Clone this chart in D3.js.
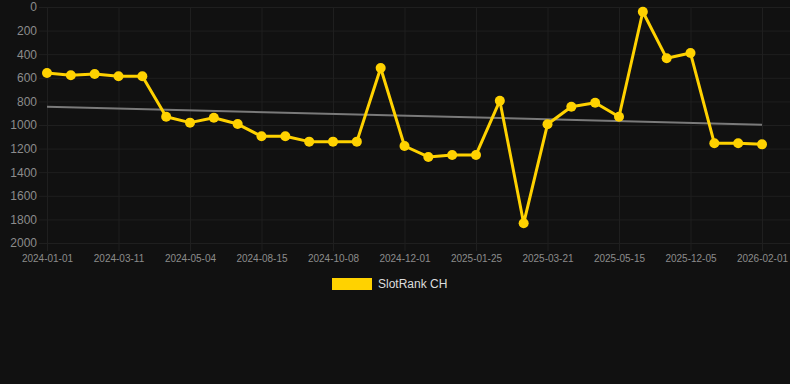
<!DOCTYPE html>
<html><head><meta charset="utf-8">
<script src="https://cdn.jsdelivr.net/npm/d3@7"></script>
<style>html,body{margin:0;padding:0;background:#111111;}svg{display:block;}</style>
</head><body><div id="chart"></div>
<script>
// Data
const tickLabels = ["2024-01-01","2024-03-11","2024-05-04","2024-08-15","2024-10-08","2024-12-01","2025-01-25","2025-03-21","2025-05-15","2025-12-05","2026-02-01"];
const tickEvery = 3;
const rankValues = [560,579,568,587,587,930,980,938,992,1096,1096,1141,1141,1141,517,1178,1271,1254,1254,794,1833,994,845,811,930,40,435,390,1155,1155,1164];
const trendValues = [845,997];
const yTicks = [0,200,400,600,800,1000,1200,1400,1600,1800,2000];
const seriesName = "SlotRank CH";

(function () {
const W = 790, H = 384;
const pLeft = 47, pRight = 762, pTop = 7, pBottom = 243;
const svg = d3.select("#chart").append("svg").attr("width", W).attr("height", H);
svg.append("rect").attr("width", W).attr("height", H).attr("fill", "#111111");

const idx = d3.range(rankValues.length);
const x = d3.scalePoint().domain(idx).range([pLeft, pRight]);
const y = d3.scaleLinear().domain([0, 2000]).range([pTop, pBottom]);

const grid = "#1f1f1f";
svg.append("g").selectAll("line").data(yTicks).join("line")
  .attr("x1", pLeft - 8).attr("x2", W).attr("y1", d => y(d) + 0.5).attr("y2", d => y(d) + 0.5)
  .attr("stroke", grid).attr("stroke-width", 1);
const xTickIdx = idx.filter(i => i % tickEvery === 0);
svg.append("g").selectAll("line").data(xTickIdx).join("line")
  .attr("x1", d => x(d) + 0.5).attr("x2", d => x(d) + 0.5).attr("y1", pTop).attr("y2", pBottom + 8)
  .attr("stroke", grid).attr("stroke-width", 1);

const yAxis = svg.append("g").attr("transform", `translate(${pLeft - 10},0)`)
  .call(d3.axisLeft(y).tickValues(yTicks).tickSize(0).tickPadding(0).tickFormat(d3.format("d")));
yAxis.select(".domain").remove();
yAxis.selectAll("text").attr("fill", "#8c8c8c").attr("font-size", 12)
  .attr("font-family", "Liberation Sans, Arial, sans-serif");

const xAxis = svg.append("g").attr("transform", `translate(0,${pBottom + 12})`)
  .call(d3.axisBottom(x).tickValues(xTickIdx).tickSize(0).tickPadding(0)
    .tickFormat(d => tickLabels[d / tickEvery]));
xAxis.select(".domain").remove();
xAxis.selectAll("text").attr("fill", "#8c8c8c").attr("font-size", 10)
  .attr("font-family", "Liberation Sans, Arial, sans-serif").attr("dy", "0.71em");

const tx = d3.scaleLinear().domain([0, 1]).range([pLeft, pRight]);
svg.append("line")
  .attr("x1", tx(0)).attr("x2", tx(1))
  .attr("y1", y(trendValues[0])).attr("y2", y(trendValues[1]))
  .attr("stroke", "#7a7a7a").attr("stroke-width", 2);

const gold = "#ffd200";
const line = d3.line().x((d, i) => x(i)).y(d => y(d));
svg.append("path").datum(rankValues).attr("d", line)
  .attr("fill", "none").attr("stroke", gold).attr("stroke-width", 3).attr("stroke-linejoin", "round");
svg.append("g").selectAll("circle").data(rankValues).join("circle")
  .attr("cx", (d, i) => x(i)).attr("cy", d => y(d)).attr("r", 5).attr("fill", gold);

const lg = svg.append("g");
lg.append("rect").attr("x", 332).attr("y", 278).attr("width", 40).attr("height", 12).attr("fill", gold);
lg.append("text").attr("x", 378).attr("y", 284).attr("dy", "0.35em").text(seriesName)
  .attr("fill", "#dddddd").attr("font-size", 12).attr("font-family", "Liberation Sans, Arial, sans-serif");
})();
</script></body></html>
